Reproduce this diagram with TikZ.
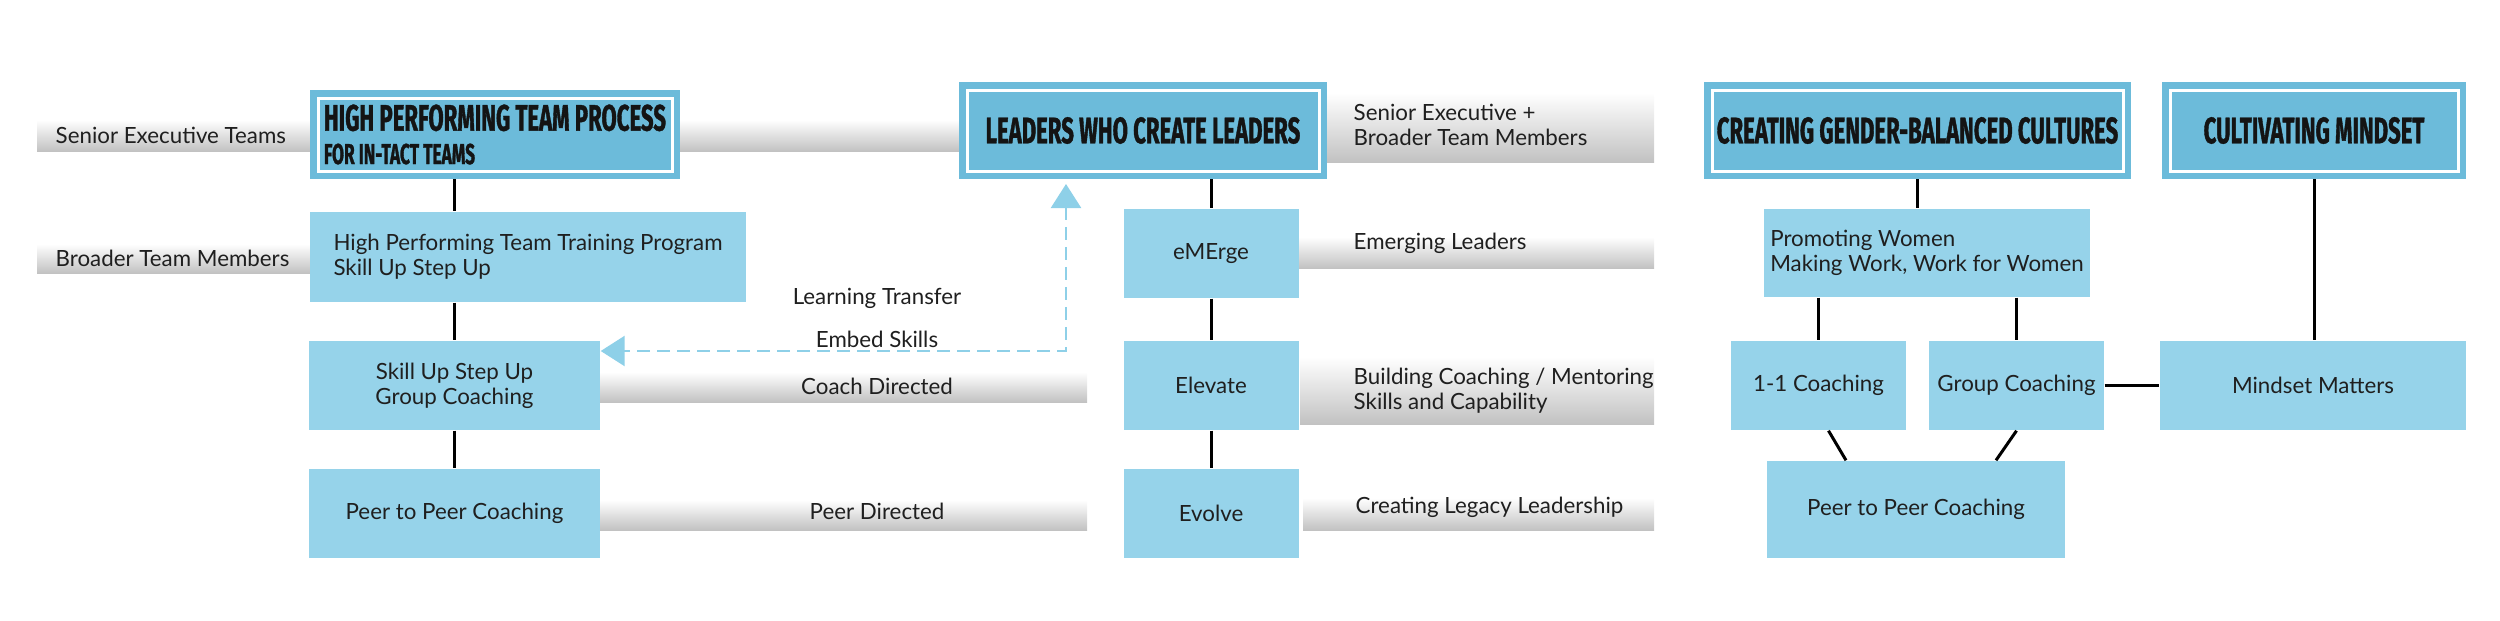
\documentclass[tikz,border=0pt]{standalone}
\usepackage{fontspec}
\setmainfont{Lato}
\newfontfamily\hdrfont{Fira Sans}[FakeStretch=0.6,FakeBold=1]
\usetikzlibrary{arrows.meta}
\definecolor{hdrblue}{RGB}{108,187,218}
\definecolor{boxblue}{RGB}{150,211,234}
\definecolor{dashblue}{RGB}{142,208,232}

\begin{document}
\begin{tikzpicture}[>={Triangle[length=0.24cm,width=0.3cm]},
  txt/.style={font=\fontsize{6.35}{7.1}\selectfont,text=black!88,inner sep=0pt},
  box/.style={txt,fill=boxblue,align=center},
  hdr/.style={fill=hdrblue,draw=hdrblue,double=white,line width=0.065cm,double distance=0.03cm,
    outer sep=0.08cm,inner sep=0pt,align=left,text=black!92,
    font=\hdrfont\bfseries\fontsize{10.5}{10.5}\selectfont},
  band/.style={top color=white,middle color=black!7,bottom color=black!24},
  link/.style={line width=0.03cm},
  dasharrow/.style={dashblue,line width=0.025cm,dash pattern=on 0.13cm off 0.07cm}]
\useasboundingbox (0,0) rectangle (25,-6.2);

% grey bands behind the boxes
\foreach \xa/\ya/\xb/\yb in {0.37/1.20/9.59/1.51, 0.37/2.44/3.10/2.73, 6.00/3.72/10.87/4.02,
  6.00/5.00/10.87/5.30, 13.27/0.93/16.54/1.62, 12.96/2.37/16.54/2.68, 13.00/3.57/16.54/4.24,
  13.03/4.98/16.54/5.30}
  \shade[band] (\xa,-\ya) rectangle (\xb,-\yb);

\node[hdr,minimum width=3.54cm,minimum height=0.73cm] (teamhdr) at (4.95,-1.345)
  {HIGH PERFORMING TEAM PROCESS\\[-1pt]{\fontsize{8.2}{8.2}\selectfont FOR IN-TACT TEAMS}};
\node[hdr,minimum width=3.52cm,minimum height=0.81cm] (leadhdr) at (11.43,-1.305) {LEADERS WHO CREATE LEADERS};
\node[hdr,minimum width=4.11cm,minimum height=0.81cm] (genderhdr) at (19.175,-1.305) {CREATING GENDER-BALANCED CULTURES};
\node[hdr,minimum width=2.88cm,minimum height=0.81cm] (mindhdr) at (23.14,-1.305) {CULTIVATING MINDSET};

\node[box,align=left,minimum width=4.36cm,minimum height=0.90cm] (training) at (5.28,-2.57)
  {High Performing Team Training Program\\Skill Up Step Up};
\node[box,minimum width=2.91cm,minimum height=0.89cm] (groupcoach) at (4.545,-3.855) {Skill Up Step Up\\Group Coaching};
\node[box,minimum width=2.91cm,minimum height=0.89cm] (peercoach) at (4.545,-5.135) {Peer to Peer Coaching};
\node[box,minimum width=1.75cm,minimum height=0.89cm] (emerge) at (12.11,-2.535) {eMErge};
\node[box,minimum width=1.75cm,minimum height=0.89cm] (elevate) at (12.11,-3.855) {Elevate};
\node[box,minimum width=1.75cm,minimum height=0.89cm] (evolve) at (12.11,-5.135) {Evolve};
\node[box,align=left,minimum width=3.26cm,minimum height=0.88cm] (women) at (19.27,-2.53)
  {Promoting Women\\Making Work, Work for Women};
\node[box,minimum width=1.75cm,minimum height=0.89cm] (onecoach) at (18.185,-3.855) {1-1 Coaching};
\node[box,minimum width=1.75cm,minimum height=0.89cm] (grpcoach) at (20.165,-3.855) {Group Coaching};
\node[box,minimum width=3.06cm,minimum height=0.89cm] (mindset) at (23.13,-3.855) {Mindset Matters};
\node[box,minimum width=2.98cm,minimum height=0.97cm] (peer2) at (19.16,-5.095) {Peer to Peer Coaching};

\node[txt,anchor=west] (senior) at (0.55,-1.35) {Senior Executive Teams};
\node[txt,anchor=west] (broader) at (0.55,-2.58) {Broader Team Members};
\node[txt] (coachdir) at (8.77,-3.86) {Coach Directed};
\node[txt] (peerdir) at (8.77,-5.11) {Peer Directed};
\node[txt] (transfer) at (8.77,-2.98) {Learning Transfer};
\node[txt] (embed) at (8.77,-3.39) {Embed Skills};
\node[txt,anchor=west,align=left] (seniorbroad) at (13.53,-1.245) {Senior Executive +\\Broader Team Members};
\node[txt,anchor=west] (emerging) at (13.53,-2.43) {Emerging Leaders};
\node[txt,anchor=west,align=left] (building) at (13.53,-3.91) {Building Coaching / Mentoring\\Skills and Capability};
\node[txt,anchor=west] (legacy) at (13.55,-5.07) {Creating Legacy Leadership};

\draw[link] (teamhdr.south -| groupcoach) -- (training.north -| groupcoach);
\draw[link] (training.south -| groupcoach) -- (groupcoach);
\draw[link] (groupcoach) -- (peercoach);
\draw[link] (leadhdr.south -| emerge) -- (emerge);
\draw[link] (emerge) -- (elevate);
\draw[link] (elevate) -- (evolve);
\draw[link] (genderhdr.south) -- (genderhdr.south |- women.north);
\draw[link] (women.south -| onecoach) -- (onecoach);
\draw[link] (women.south -| grpcoach) -- (grpcoach);
\draw[link] (mindhdr.south) -- (mindhdr.south |- mindset.north);
\draw[link] (grpcoach) -- (mindset);
\draw[link] ([xshift=0.1cm]onecoach.south) -- ([xshift=-0.7cm]peer2.north);
\draw[link] (grpcoach.south) -- ([xshift=0.8cm]peer2.north);
\draw[dasharrow,<->] ([xshift=-0.77cm,yshift=-0.05cm]leadhdr.south) |- ([yshift=0.345cm]groupcoach.east);
\end{tikzpicture}
\end{document}
